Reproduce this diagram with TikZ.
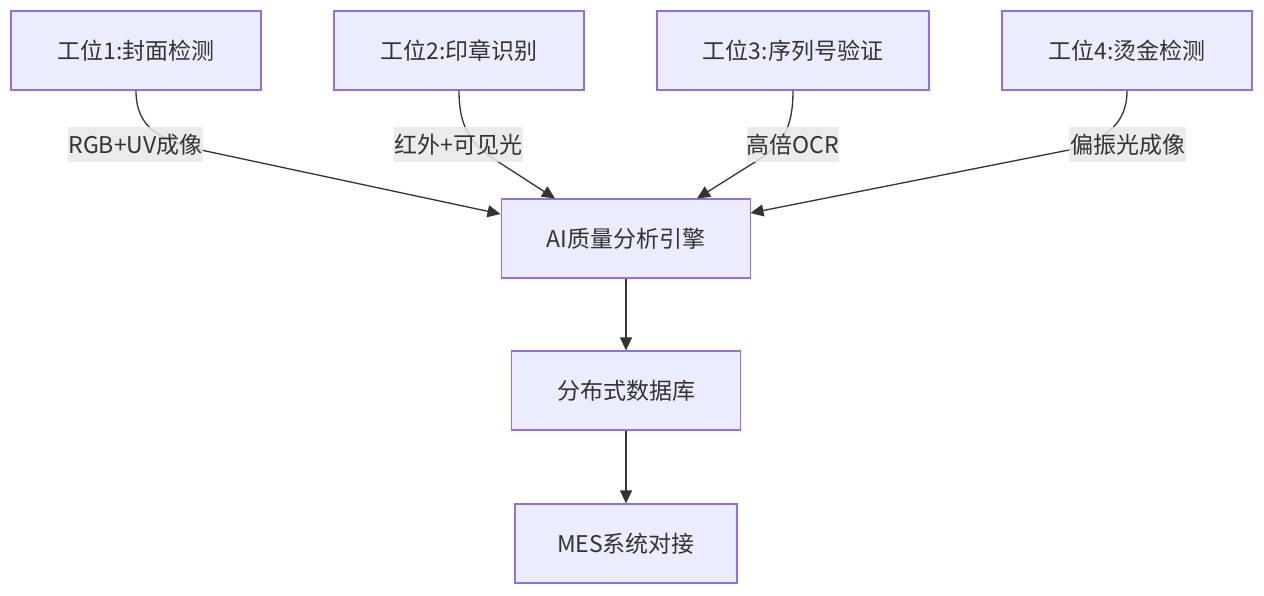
\documentclass[tikz,border=0pt]{standalone}
\usepackage{fontspec}
\setmainfont{Noto Sans CJK SC}
\usetikzlibrary{arrows.meta}
\definecolor{nodefill}{HTML}{ECECFF}
\definecolor{nodeborder}{HTML}{9370DB}
\definecolor{txt}{HTML}{333333}
\definecolor{edgec}{HTML}{333333}
\definecolor{lblbg}{HTML}{E8E8E8}
\begin{document}
\begin{tikzpicture}[x=1pt,y=-1pt,
  box/.style={draw=nodeborder,fill=nodefill,line width=1.3pt,text=txt,inner sep=0pt,
    font=\fontsize{23pt}{26pt}\selectfont},
  elabel/.style={fill=lblbg,fill opacity=0.85,text opacity=1,text=txt,inner sep=0pt,
    minimum height=35pt,font=\fontsize{23pt}{26pt}\selectfont},
  conn/.style={draw=edgec,line width=1.3pt,-{Triangle[length=13pt,width=12pt]}},
  plain/.style={draw=edgec,line width=1.3pt}]
\useasboundingbox (0,0) rectangle (1264,595);
\fill[white] (0,0) rectangle (1264,595);
% nodes
\node[box,minimum width=250pt,minimum height=79pt] (n1) at (136,50.5) {工位1:封面检测};
\node[box,minimum width=250pt,minimum height=79pt] (n2) at (459,50.5) {工位2:印章识别};
\node[box,minimum width=272pt,minimum height=79pt] (n3) at (793,50.5) {工位3:序列号验证};
\node[box,minimum width=250pt,minimum height=79pt] (n4) at (1127,50.5) {工位4:烫金检测};
\node[box,minimum width=249pt,minimum height=79pt] (ai) at (626,238.5) {AI质量分析引擎};
\node[box,minimum width=229pt,minimum height=79pt] (db) at (626,390.5) {分布式数据库};
\node[box,minimum width=222pt,minimum height=79pt] (mes) at (626,543.5) {MES系统对接};
% connector anchor coordinates
\coordinate (s1) at (136,90.7);
\coordinate (s2) at (459,90.7);
\coordinate (s3) at (793,90.7);
\coordinate (s4) at (1127,90.7);
\coordinate (m1) at (201,150);
\coordinate (m2) at (500,163);
\coordinate (m3) at (755,162);
\coordinate (m4) at (1069,150);
\coordinate (t1) at (500.5,214);
\coordinate (t2) at (555,198.5);
\coordinate (t3) at (697,198.5);
\coordinate (t4) at (750.5,213);
% edges
\draw[conn] (s1) .. controls (136,128) and (160,140) .. (m1) -- (t1);
\draw[conn] (s2) .. controls (459,132) and (474,146) .. (m2) -- (t2);
\draw[conn] (s3) .. controls (793,132) and (780,146) .. (m3) -- (t3);
\draw[conn] (s4) .. controls (1127,128) and (1100,140) .. (m4) -- (t4);
\draw[conn] (ai.south) -- (db.north);
\draw[conn] (db.south) -- (mes.north);
% edge labels
\node[elabel,minimum width=131pt] (l1) at (135.5,144.5) {RGB+UV成像};
\node[elabel,minimum width=129pt] (l2) at (458.5,144.5) {红外+可见光};
\node[elabel,minimum width=90pt] (l3) at (793,144.5) {高倍OCR};
\node[elabel,minimum width=117pt] (l4) at (1127.5,144.5) {偏振光成像};
\end{tikzpicture}
\end{document}
